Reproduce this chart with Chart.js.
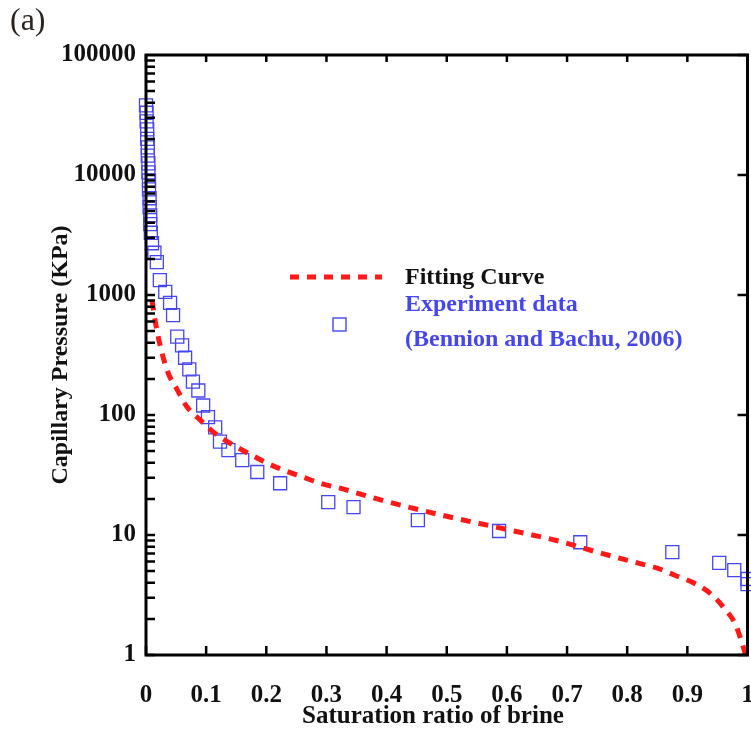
<!DOCTYPE html>
<html>
<head>
<meta charset="utf-8">
<script src="https://cdn.jsdelivr.net/npm/chart.js@4/dist/chart.umd.min.js"></script>
<style>
  html, body { margin: 0; padding: 0; background: #fff; overflow: hidden; }
  #wrap { width: 758px; height: 731px; }
  canvas { display: block; }
</style>
</head>
<body>
<div id="wrap"><canvas id="pcChart"></canvas></div>
<script>
// Fitting curve (saturation ratio of brine vs capillary pressure, KPa)
const satFit = [0.01, 0.018, 0.035, 0.052, 0.068, 0.09, 0.112, 0.14, 0.17, 0.2, 0.23, 0.26, 0.29, 0.33,
                0.39, 0.49, 0.55, 0.59, 0.69, 0.75, 0.82, 0.85, 0.88, 0.91, 0.94, 0.96, 0.98, 0.99, 0.997];
const pcFit = [900, 510, 237, 162, 117, 91, 72, 58, 48, 40, 34.5, 30.5, 27, 24,
               19.6, 14.7, 12.6, 11.4, 8.8, 7.2, 5.8, 5.3, 4.6, 4.0, 3.2, 2.5, 1.8, 1.3, 1.0];

// Experiment data (Bennion and Bachu, 2006)
const satExp = [0, 0.001, 0.001, 0.002, 0.002, 0.003, 0.003, 0.004, 0.004, 0.005, 0.005, 0.006, 0.006, 0.007, 0.007, 0.008,
                0.01, 0.014, 0.018, 0.023, 0.032, 0.04, 0.045, 0.052, 0.06, 0.065, 0.072, 0.078, 0.087, 0.095,
                0.103, 0.115, 0.123, 0.137, 0.16, 0.185, 0.223, 0.303, 0.345, 0.452, 0.587, 0.722, 0.875, 0.953, 0.978, 1.0, 1.0];
const pcExp = [38000, 33000, 28000, 24000, 20000, 17000, 14500, 12500, 10500, 9000, 7600, 6400, 5400, 4600, 3900, 3300,
               2700, 2250, 1880, 1330, 1060, 860, 680, 450, 380, 300, 240, 190, 160, 120,
               96, 79, 60, 51, 42, 33.5, 27, 18.8, 17.1, 13.3, 10.8, 8.7, 7.2, 5.85, 5.1, 4.3, 3.9];

const xTicks = [0, 0.1, 0.2, 0.3, 0.4, 0.5, 0.6, 0.7, 0.8, 0.9, 1];
const yTicks = [1, 10, 100, 1000, 10000, 100000];

const RED = 'rgb(255, 25, 25)';
const BLUE = 'rgb(70, 70, 240)';
const SERIF = '"Liberation Serif", "DejaVu Serif", serif';

// frame with inward ticks, drawn over the markers like the original
const frameTicks = {
    id: 'frameTicks',
    afterDatasetsDraw(chart) {
        const { ctx, chartArea: a, scales: { x, y } } = chart;
        ctx.save();
        ctx.strokeStyle = '#000';
        ctx.lineWidth = 2.5;
        ctx.beginPath();
        xTicks.forEach(v => {
            const px = x.getPixelForValue(v);
            ctx.moveTo(px, a.bottom); ctx.lineTo(px, a.bottom - 9);
            ctx.moveTo(px, a.top); ctx.lineTo(px, a.top + 7);
        });
        for (let d = 1; d < 100000; d *= 10) {
            for (let m = 1; m < 10; m++) {
                const py = y.getPixelForValue(d * m);
                ctx.moveTo(a.left, py); ctx.lineTo(a.left + 9, py);
            }
        }
        yTicks.forEach(v => {
            const py = y.getPixelForValue(v);
            ctx.moveTo(a.right, py); ctx.lineTo(a.right - 10, py);
        });
        ctx.stroke();
        ctx.lineWidth = 3;
        ctx.strokeRect(a.left, a.top, a.right - a.left, a.bottom - a.top);
        ctx.restore();
    },
    afterDraw(chart) {
        const ctx = chart.ctx;
        ctx.save();
        // panel label
        ctx.fillStyle = '#2a2420';
        ctx.font = '32px ' + SERIF;
        ctx.textBaseline = 'middle';
        ctx.fillText('(a)', 10, 22);

        // x axis title (sits a little left of the plot centre in the original)
        ctx.fillStyle = '#111';
        ctx.font = 'bold 25px ' + SERIF;
        ctx.textAlign = 'center';
        ctx.fillText('Saturation ratio of brine', 433, 717);
        ctx.textAlign = 'left';

        // legend
        ctx.strokeStyle = RED;
        ctx.lineWidth = 5;
        ctx.setLineDash([9, 8]);
        ctx.beginPath();
        ctx.moveTo(290, 277);
        ctx.lineTo(382, 277);
        ctx.stroke();
        ctx.setLineDash([]);
        ctx.strokeStyle = BLUE;
        ctx.lineWidth = 1.4;
        ctx.strokeRect(333, 318, 13, 13);

        ctx.font = 'bold 24px ' + SERIF;
        ctx.fillStyle = '#111';
        ctx.fillText('Fitting Curve', 405, 278);
        ctx.fillStyle = BLUE;
        ctx.fillText('Experiment data', 405, 305);
        ctx.fillText('(Bennion and Bachu, 2006)', 405, 340);
        ctx.restore();
    }
};

const ctx = document.getElementById('pcChart').getContext('2d');

new Chart(ctx, {
    type: 'scatter',
    data: {
        datasets: [
            {
                label: 'Fitting Curve',
                data: satFit.map((s, i) => ({ x: s, y: pcFit[i] })),
                showLine: true,
                borderColor: RED,
                borderWidth: 5,
                borderDash: [10, 8],
                pointRadius: 0,
                cubicInterpolationMode: 'monotone',
                clip: false
            },
            {
                label: 'Experiment data (Bennion and Bachu, 2006)',
                data: satExp.map((s, i) => ({ x: s, y: pcExp[i] })),
                pointStyle: 'rect',
                pointRadius: 9.2,
                borderColor: BLUE,
                borderWidth: 1.3,
                backgroundColor: 'rgba(0,0,0,0)',
                clip: false
            }
        ]
    },
    options: {
        responsive: true,
        maintainAspectRatio: false,
        animation: false,
        layout: { padding: { top: 55, right: 4, left: 0, bottom: 0 } },
        plugins: {
            legend: { display: false },
            tooltip: { enabled: false }
        },
        scales: {
            x: {
                type: 'linear',
                min: 0,
                max: 1,
                afterBuildTicks: scale => { scale.ticks = xTicks.map(v => ({ value: v })); },
                afterFit: scale => {
                    scale.height = 76;
                    scale.paddingLeft = 0;
                    scale.paddingRight = 0;
                },
                grid: { display: false, drawTicks: false },
                border: { display: false },
                ticks: {
                    color: '#111',
                    padding: 26,
                    maxRotation: 0,
                    font: { family: SERIF, size: 25, weight: 'bold' },
                    callback: v => String(Math.round(v * 10) / 10)
                },
                title: { display: false }
            },
            y: {
                type: 'logarithmic',
                min: 1,
                max: 100000,
                afterBuildTicks: scale => { scale.ticks = yTicks.map(v => ({ value: v })); },
                afterFit: scale => { scale.width = 146; },
                grid: { display: false, drawTicks: false },
                border: { display: false },
                ticks: {
                    color: '#111',
                    padding: 10,
                    font: { family: SERIF, size: 25, weight: 'bold' },
                    callback: v => String(v)
                },
                title: {
                    display: true,
                    text: 'Capillary Pressure (KPa)',
                    color: '#111',
                    padding: { top: 46, bottom: 0 },
                    font: { family: SERIF, size: 24, weight: 'bold' }
                }
            }
        }
    },
    plugins: [frameTicks]
});
</script>
</body>
</html>
